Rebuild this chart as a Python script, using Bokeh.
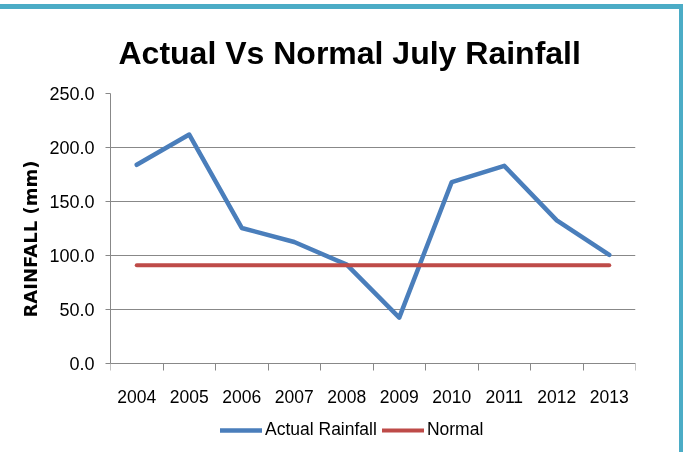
from bokeh.plotting import figure
from bokeh.models import (Legend, LegendItem, FixedTicker, PrintfTickFormatter,
                          Range1d, CustomJSTickFormatter, LinearAxis, Title)
from bokeh.embed import file_html
from bokeh.resources import INLINE

# ---- data ----
years = ["2004", "2005", "2006", "2007", "2008", "2009", "2010", "2011", "2012", "2013"]
actual_rainfall = [184, 212, 125.5, 112.5, 91.5, 42.5, 168, 183, 132.5, 100.5]
normal_rainfall = [91, 91, 91, 91, 91, 91, 91, 91, 91, 91]
y_ticks = [0, 50, 100, 150, 200, 250]

x_pos = [i + 0.5 for i in range(len(years))]
boundaries = list(range(len(years) + 1))

FONT = "Liberation Sans"
GRAY = "#888888"

# frame spans 359 px; value axis 0..250 occupies the upper 270 px,
# the lower part holds the category labels and the legend
Y_MAX = 250
Y_MIN = -Y_MAX * 89 / 270

p = figure(width=683, height=448, output_backend="svg", toolbar_location=None,
           x_range=Range1d(0, len(years)), y_range=Range1d(Y_MIN, Y_MAX),
           x_axis_location=None,
           min_border_left=110, min_border_right=48, min_border_top=84,
           min_border_bottom=5)
p.styles = {"position": "fixed", "left": "0px", "top": "4px",
            "border-top": "5px solid #4BACC6", "border-right": "4px solid #4BACC6"}
p.outline_line_color = None
p.background_fill_color = "white"
p.border_fill_color = "white"

# title
p.title.text = "Actual Vs Normal July Rainfall"
p.title.text_font = FONT
p.title.text_font_style = "bold"
p.title.text_font_size = "32px"
p.title.text_color = "black"
p.title.align = "left"
p.title.offset = 8
p.title.standoff = 46

# x axis: labels at category centres, tick marks at boundaries, sitting at y = 0
xa = LinearAxis(fixed_location=0)
xa.ticker = FixedTicker(ticks=x_pos, minor_ticks=boundaries)
xa.formatter = CustomJSTickFormatter(args=dict(labels=years),
                                     code="return labels[Math.round(tick - 0.5)] || '';")
xa.major_tick_line_color = None
xa.major_tick_out = 0
xa.major_tick_in = 0
xa.minor_tick_line_color = GRAY
xa.minor_tick_out = 7
xa.minor_tick_in = 0
xa.axis_line_color = GRAY
xa.major_label_text_font = FONT
xa.major_label_text_font_size = "17.5px"
xa.major_label_text_color = "black"
xa.major_label_standoff = 19
p.add_layout(xa, "below")

# y axis
ya = p.yaxis[0]
ya.ticker = FixedTicker(ticks=y_ticks)
ya.bounds = (0, Y_MAX)
ya.formatter = PrintfTickFormatter(format="%.1f")
ya.major_tick_line_color = GRAY
ya.major_tick_out = 5
ya.major_tick_in = 0
ya.minor_tick_line_color = None
ya.axis_line_color = GRAY
ya.major_label_text_font = FONT
ya.major_label_text_font_size = "18px"
ya.major_label_text_color = "black"
ya.major_label_standoff = 11

# vertical axis title, aligned with the 0..250 part of the axis
y_title = Title(text="RAINFALL (mm)", align="left", offset=135, standoff=11,
                text_font="DejaVu Sans", text_font_style="bold",
                text_font_size="18px", text_color="black")
p.add_layout(y_title, "left")

for g in p.grid:
    if g.dimension == 0:
        g.grid_line_color = None
    else:
        g.grid_line_color = GRAY
        g.grid_line_width = 1

r_actual = p.line(x_pos, actual_rainfall, line_color="#4A7EBB", line_width=4.5,
                  line_cap="round", line_join="round")
r_normal = p.line(x_pos, normal_rainfall, line_color="#BE4B48", line_width=4,
                  line_cap="round", line_join="round")

legend = Legend(items=[LegendItem(label="Actual Rainfall", renderers=[r_actual]),
                       LegendItem(label="Normal", renderers=[r_normal])],
                orientation="horizontal", location=(110, 12),
                glyph_width=42, glyph_height=20, label_standoff=3, spacing=5,
                padding=0, margin=0, border_line_color=None,
                background_fill_alpha=0, label_text_font=FONT,
                label_text_font_size="17.5px", label_text_color="black")
p.add_layout(legend, "center")

open("out.html", "w").write(file_html(p, INLINE))
